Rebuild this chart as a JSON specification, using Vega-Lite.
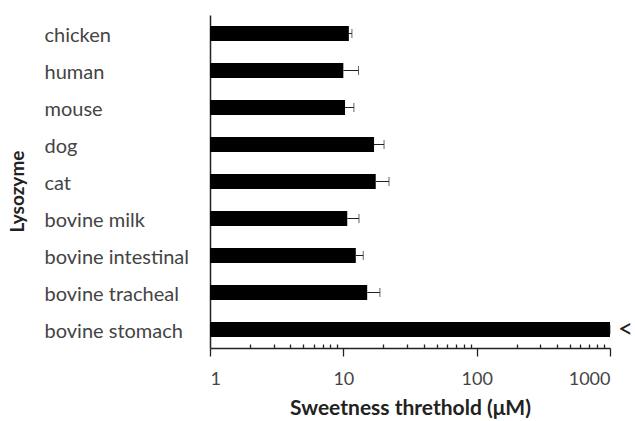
{
  "$schema": "https://vega.github.io/schema/vega-lite/v6.json",
  "width": 400,
  "height": 333,
  "autosize": "none",
  "padding": {"left": 210, "top": 15, "right": 25, "bottom": 73},
  "background": "white",
  "config": {"view": {"stroke": null}, "font": "Lato"},
  "data": {"values": [
    {"lysozyme": "chicken", "value": 11.0, "upper": 11.6, "mark": ""},
    {"lysozyme": "human", "value": 10.0, "upper": 13.0, "mark": ""},
    {"lysozyme": "mouse", "value": 10.3, "upper": 12.0, "mark": ""},
    {"lysozyme": "dog", "value": 17.0, "upper": 20.2, "mark": ""},
    {"lysozyme": "cat", "value": 17.5, "upper": 22.0, "mark": ""},
    {"lysozyme": "bovine milk", "value": 10.7, "upper": 13.1, "mark": ""},
    {"lysozyme": "bovine intestinal", "value": 12.4, "upper": 14.1, "mark": ""},
    {"lysozyme": "bovine tracheal", "value": 15.1, "upper": 18.8, "mark": ""},
    {"lysozyme": "bovine stomach", "value": 1000, "upper": 1000, "mark": "<"}
  ]},
  "encoding": {
    "y": {"field": "lysozyme", "type": "nominal", "sort": null,
      "scale": {"paddingInner": 0.6, "paddingOuter": 0.3},
      "axis": {"title": "Lysozyme", "titleFontSize": 19, "titleFontWeight": "bold", "titleColor": "#222",
        "titleX": -183, "titleY": 176, "titleAngle": -90, "titleAlign": "center",
        "labelAlign": "left", "labelPadding": 166, "labelFontSize": 20, "labelColor": "#444", "labelOffset": 2,
        "ticks": false, "domainColor": "#222", "domainWidth": 1.5}}
  },
  "layer": [
    {"mark": {"type": "bar", "color": "black"},
     "encoding": {
       "x": {"field": "value", "type": "quantitative",
         "scale": {"type": "log", "domain": [1, 1000], "nice": false},
         "axis": {"title": "Sweetness threthold (μM)", "titleFontSize": 21, "titleFontWeight": "bold", "titleColor": "#222", "titlePadding": 9,
           "values": [1,2,3,4,5,6,7,8,9,10,20,30,40,50,60,70,80,90,100,200,300,400,500,600,700,800,900,1000],
           "labelExpr": "indexof([1,10,100,1000], datum.value) >= 0 ? format(datum.value, 'd') : ''",
           "labelFontSize": 18, "labelColor": "#444", "labelPadding": 14,
           "tickSize": {"condition": {"test": "indexof([1,10,100,1000], datum.value) >= 0", "value": 8}, "value": -4},
           "tickColor": "#222", "tickWidth": 1.3, "domainColor": "#222", "domainWidth": 1.5, "grid": false}},
       "x2": {"datum": 1}}},
    {"mark": {"type": "rule", "color": "#222", "strokeWidth": 1},
     "encoding": {"x": {"field": "value", "type": "quantitative"}, "x2": {"field": "upper"}}},
    {"mark": {"type": "tick", "orient": "vertical", "color": "#222", "size": 9, "thickness": 1},
     "encoding": {"x": {"field": "upper", "type": "quantitative"}}},
    {"mark": {"type": "text", "align": "left", "dx": 8, "fontSize": 26, "color": "#222", "font": "Lato"},
     "encoding": {"x": {"field": "value", "type": "quantitative"}, "text": {"field": "mark"}}}
  ]
}
